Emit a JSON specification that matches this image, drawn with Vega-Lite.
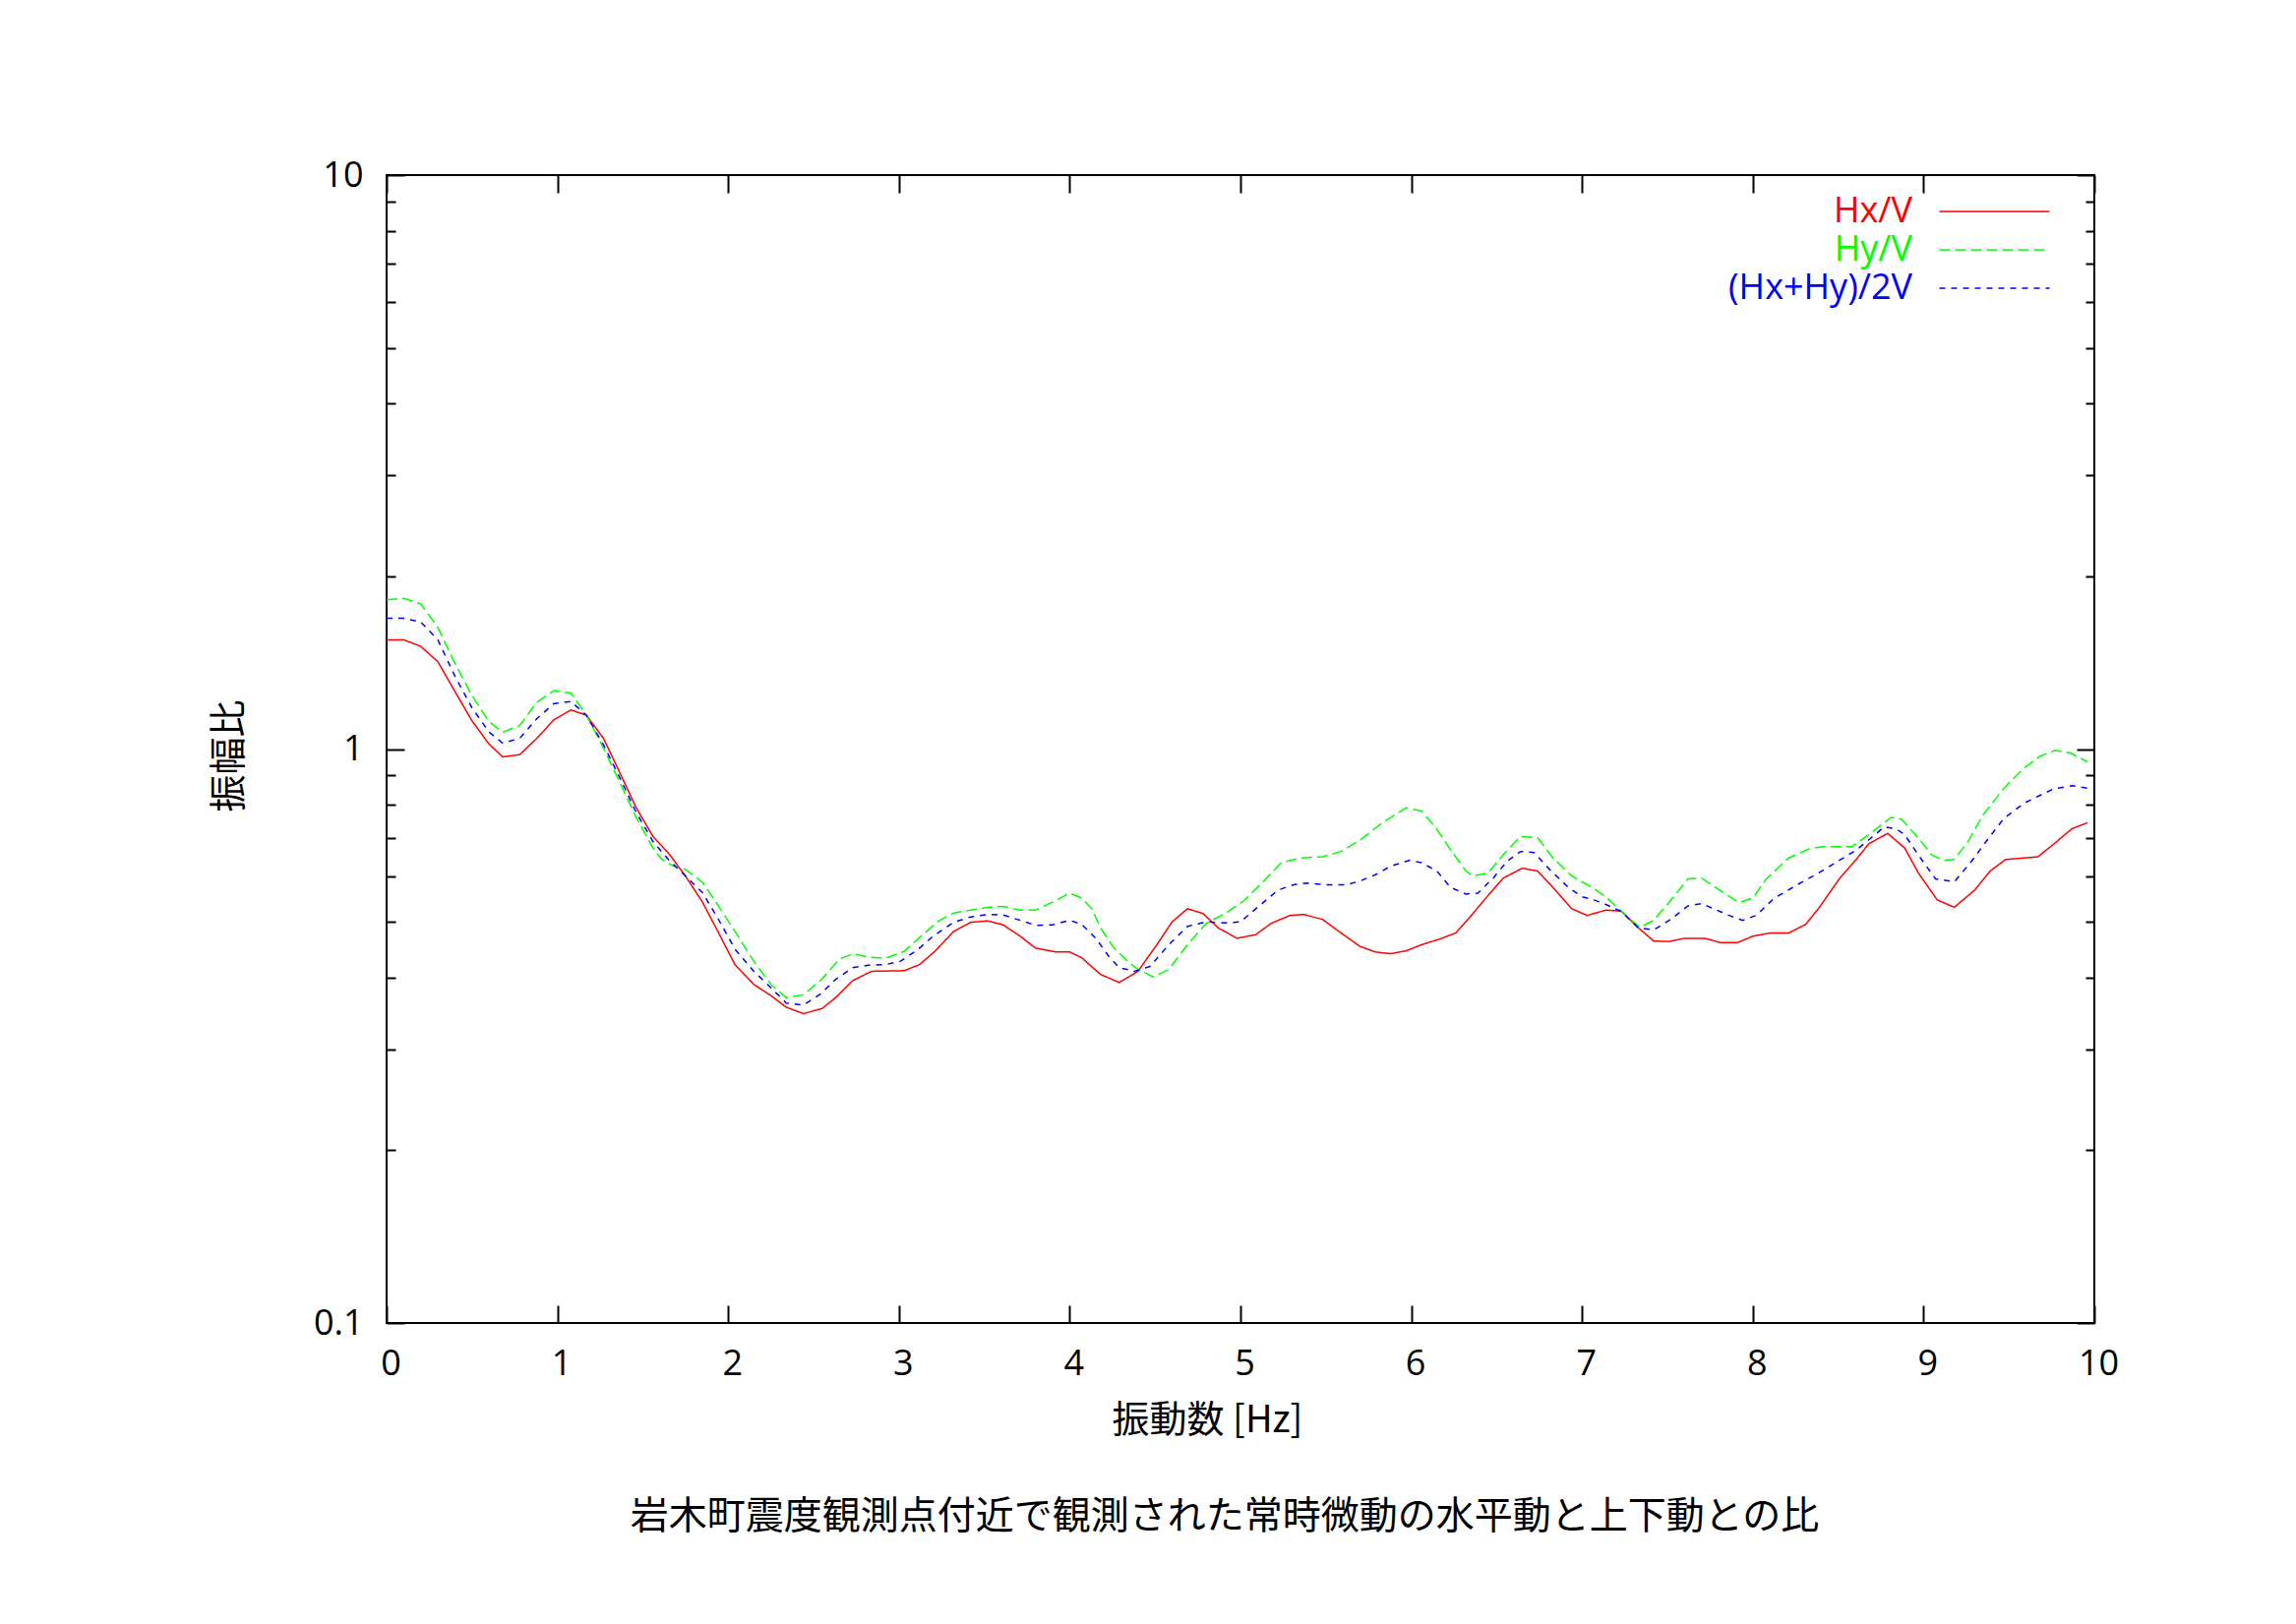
{
  "$schema": "https://vega.github.io/schema/vega-lite/v6.json",
  "autosize": {"type": "none"},
  "padding": {"left": 393, "top": 178, "right": 205, "bottom": 306},
  "width": 1736,
  "height": 1167,
  "background": "white",
  "title": {
    "text": "岩木町震度観測点付近で観測された常時微動の水平動と上下動との比",
    "orient": "bottom",
    "anchor": "middle",
    "font": "Noto Sans CJK JP",
    "fontSize": 39,
    "fontWeight": "normal",
    "color": "black",
    "offset": 60,
    "dx": -16
  },
  "datasets": {
    "hv": [
      {"f":0,"s":"Hx/V","v":1.55},{"f":0.1,"s":"Hx/V","v":1.55},{"f":0.2,"s":"Hx/V","v":1.51},{"f":0.3,"s":"Hx/V","v":1.42},{"f":0.4,"s":"Hx/V","v":1.26},{"f":0.5,"s":"Hx/V","v":1.12},{"f":0.6,"s":"Hx/V","v":1.02},{"f":0.68,"s":"Hx/V","v":0.969},{"f":0.78,"s":"Hx/V","v":0.978},{"f":0.88,"s":"Hx/V","v":1.044},{"f":0.98,"s":"Hx/V","v":1.125},{"f":1.08,"s":"Hx/V","v":1.17},{"f":1.17,"s":"Hx/V","v":1.145},{"f":1.27,"s":"Hx/V","v":1.044},{"f":1.37,"s":"Hx/V","v":0.904},{"f":1.46,"s":"Hx/V","v":0.792},{"f":1.56,"s":"Hx/V","v":0.704},{"f":1.65,"s":"Hx/V","v":0.659},{"f":1.75,"s":"Hx/V","v":0.601},{"f":1.85,"s":"Hx/V","v":0.541},{"f":1.94,"s":"Hx/V","v":0.481},{"f":2.04,"s":"Hx/V","v":0.421},{"f":2.15,"s":"Hx/V","v":0.389},{"f":2.25,"s":"Hx/V","v":0.372},{"f":2.34,"s":"Hx/V","v":0.355},{"f":2.44,"s":"Hx/V","v":0.346},{"f":2.55,"s":"Hx/V","v":0.353},{"f":2.63,"s":"Hx/V","v":0.369},{"f":2.73,"s":"Hx/V","v":0.395},{"f":2.84,"s":"Hx/V","v":0.41},{"f":3.03,"s":"Hx/V","v":0.411},{"f":3.12,"s":"Hx/V","v":0.421},{"f":3.21,"s":"Hx/V","v":0.444},{"f":3.32,"s":"Hx/V","v":0.481},{"f":3.42,"s":"Hx/V","v":0.499},{"f":3.52,"s":"Hx/V","v":0.502},{"f":3.61,"s":"Hx/V","v":0.494},{"f":3.71,"s":"Hx/V","v":0.472},{"f":3.8,"s":"Hx/V","v":0.45},{"f":3.92,"s":"Hx/V","v":0.443},{"f":4.0,"s":"Hx/V","v":0.443},{"f":4.07,"s":"Hx/V","v":0.433},{"f":4.18,"s":"Hx/V","v":0.405},{"f":4.29,"s":"Hx/V","v":0.392},{"f":4.4,"s":"Hx/V","v":0.41},{"f":4.51,"s":"Hx/V","v":0.456},{"f":4.6,"s":"Hx/V","v":0.5},{"f":4.69,"s":"Hx/V","v":0.527},{"f":4.78,"s":"Hx/V","v":0.517},{"f":4.87,"s":"Hx/V","v":0.488},{"f":4.98,"s":"Hx/V","v":0.468},{"f":5.09,"s":"Hx/V","v":0.475},{"f":5.18,"s":"Hx/V","v":0.497},{"f":5.29,"s":"Hx/V","v":0.513},{"f":5.37,"s":"Hx/V","v":0.515},{"f":5.48,"s":"Hx/V","v":0.505},{"f":5.59,"s":"Hx/V","v":0.478},{"f":5.7,"s":"Hx/V","v":0.453},{"f":5.79,"s":"Hx/V","v":0.443},{"f":5.88,"s":"Hx/V","v":0.44},{"f":5.97,"s":"Hx/V","v":0.445},{"f":6.06,"s":"Hx/V","v":0.456},{"f":6.17,"s":"Hx/V","v":0.467},{"f":6.26,"s":"Hx/V","v":0.478},{"f":6.34,"s":"Hx/V","v":0.508},{"f":6.43,"s":"Hx/V","v":0.547},{"f":6.54,"s":"Hx/V","v":0.596},{"f":6.65,"s":"Hx/V","v":0.62},{"f":6.74,"s":"Hx/V","v":0.613},{"f":6.83,"s":"Hx/V","v":0.574},{"f":6.94,"s":"Hx/V","v":0.527},{"f":7.03,"s":"Hx/V","v":0.513},{"f":7.14,"s":"Hx/V","v":0.524},{"f":7.23,"s":"Hx/V","v":0.522},{"f":7.33,"s":"Hx/V","v":0.488},{"f":7.42,"s":"Hx/V","v":0.463},{"f":7.51,"s":"Hx/V","v":0.462},{"f":7.6,"s":"Hx/V","v":0.468},{"f":7.72,"s":"Hx/V","v":0.468},{"f":7.81,"s":"Hx/V","v":0.46},{"f":7.91,"s":"Hx/V","v":0.46},{"f":8.0,"s":"Hx/V","v":0.472},{"f":8.1,"s":"Hx/V","v":0.478},{"f":8.21,"s":"Hx/V","v":0.478},{"f":8.31,"s":"Hx/V","v":0.495},{"f":8.39,"s":"Hx/V","v":0.53},{"f":8.51,"s":"Hx/V","v":0.596},{"f":8.59,"s":"Hx/V","v":0.634},{"f":8.68,"s":"Hx/V","v":0.684},{"f":8.79,"s":"Hx/V","v":0.713},{"f":8.89,"s":"Hx/V","v":0.672},{"f":8.97,"s":"Hx/V","v":0.608},{"f":9.08,"s":"Hx/V","v":0.546},{"f":9.18,"s":"Hx/V","v":0.53},{"f":9.3,"s":"Hx/V","v":0.568},{"f":9.39,"s":"Hx/V","v":0.613},{"f":9.48,"s":"Hx/V","v":0.642},{"f":9.67,"s":"Hx/V","v":0.649},{"f":9.78,"s":"Hx/V","v":0.69},{"f":9.87,"s":"Hx/V","v":0.727},{"f":9.96,"s":"Hx/V","v":0.744},
      {"f":0,"s":"Hy/V","v":1.82},{"f":0.1,"s":"Hy/V","v":1.83},{"f":0.2,"s":"Hy/V","v":1.79},{"f":0.3,"s":"Hy/V","v":1.63},{"f":0.4,"s":"Hy/V","v":1.41},{"f":0.5,"s":"Hy/V","v":1.24},{"f":0.6,"s":"Hy/V","v":1.116},{"f":0.68,"s":"Hy/V","v":1.07},{"f":0.78,"s":"Hy/V","v":1.1},{"f":0.88,"s":"Hy/V","v":1.207},{"f":0.98,"s":"Hy/V","v":1.264},{"f":1.08,"s":"Hy/V","v":1.252},{"f":1.17,"s":"Hy/V","v":1.145},{"f":1.27,"s":"Hy/V","v":1.004},{"f":1.37,"s":"Hy/V","v":0.869},{"f":1.46,"s":"Hy/V","v":0.762},{"f":1.56,"s":"Hy/V","v":0.672},{"f":1.61,"s":"Hy/V","v":0.643},{"f":1.68,"s":"Hy/V","v":0.625},{"f":1.75,"s":"Hy/V","v":0.617},{"f":1.85,"s":"Hy/V","v":0.586},{"f":1.94,"s":"Hy/V","v":0.535},{"f":2.04,"s":"Hy/V","v":0.481},{"f":2.15,"s":"Hy/V","v":0.427},{"f":2.25,"s":"Hy/V","v":0.389},{"f":2.34,"s":"Hy/V","v":0.369},{"f":2.44,"s":"Hy/V","v":0.373},{"f":2.54,"s":"Hy/V","v":0.395},{"f":2.65,"s":"Hy/V","v":0.43},{"f":2.73,"s":"Hy/V","v":0.44},{"f":2.82,"s":"Hy/V","v":0.434},{"f":2.92,"s":"Hy/V","v":0.432},{"f":3.03,"s":"Hy/V","v":0.444},{"f":3.14,"s":"Hy/V","v":0.475},{"f":3.23,"s":"Hy/V","v":0.501},{"f":3.32,"s":"Hy/V","v":0.518},{"f":3.42,"s":"Hy/V","v":0.524},{"f":3.52,"s":"Hy/V","v":0.53},{"f":3.61,"s":"Hy/V","v":0.532},{"f":3.71,"s":"Hy/V","v":0.524},{"f":3.8,"s":"Hy/V","v":0.524},{"f":3.9,"s":"Hy/V","v":0.541},{"f":4.0,"s":"Hy/V","v":0.561},{"f":4.07,"s":"Hy/V","v":0.55},{"f":4.13,"s":"Hy/V","v":0.527},{"f":4.18,"s":"Hy/V","v":0.488},{"f":4.26,"s":"Hy/V","v":0.45},{"f":4.35,"s":"Hy/V","v":0.424},{"f":4.4,"s":"Hy/V","v":0.413},{"f":4.49,"s":"Hy/V","v":0.401},{"f":4.58,"s":"Hy/V","v":0.413},{"f":4.69,"s":"Hy/V","v":0.456},{"f":4.8,"s":"Hy/V","v":0.497},{"f":4.91,"s":"Hy/V","v":0.517},{"f":5.02,"s":"Hy/V","v":0.544},{"f":5.13,"s":"Hy/V","v":0.586},{"f":5.24,"s":"Hy/V","v":0.634},{"f":5.35,"s":"Hy/V","v":0.646},{"f":5.48,"s":"Hy/V","v":0.649},{"f":5.59,"s":"Hy/V","v":0.663},{"f":5.7,"s":"Hy/V","v":0.694},{"f":5.81,"s":"Hy/V","v":0.736},{"f":5.92,"s":"Hy/V","v":0.774},{"f":5.97,"s":"Hy/V","v":0.79},{"f":6.06,"s":"Hy/V","v":0.78},{"f":6.14,"s":"Hy/V","v":0.732},{"f":6.23,"s":"Hy/V","v":0.668},{"f":6.32,"s":"Hy/V","v":0.613},{"f":6.36,"s":"Hy/V","v":0.601},{"f":6.45,"s":"Hy/V","v":0.608},{"f":6.54,"s":"Hy/V","v":0.655},{"f":6.64,"s":"Hy/V","v":0.704},{"f":6.74,"s":"Hy/V","v":0.701},{"f":6.83,"s":"Hy/V","v":0.646},{"f":6.94,"s":"Hy/V","v":0.601},{"f":7.05,"s":"Hy/V","v":0.576},{"f":7.14,"s":"Hy/V","v":0.553},{"f":7.23,"s":"Hy/V","v":0.521},{"f":7.34,"s":"Hy/V","v":0.489},{"f":7.42,"s":"Hy/V","v":0.503},{"f":7.52,"s":"Hy/V","v":0.545},{"f":7.62,"s":"Hy/V","v":0.594},{"f":7.7,"s":"Hy/V","v":0.596},{"f":7.76,"s":"Hy/V","v":0.58},{"f":7.84,"s":"Hy/V","v":0.559},{"f":7.92,"s":"Hy/V","v":0.54},{"f":8.0,"s":"Hy/V","v":0.55},{"f":8.08,"s":"Hy/V","v":0.594},{"f":8.21,"s":"Hy/V","v":0.646},{"f":8.33,"s":"Hy/V","v":0.67},{"f":8.41,"s":"Hy/V","v":0.676},{"f":8.58,"s":"Hy/V","v":0.676},{"f":8.68,"s":"Hy/V","v":0.709},{"f":8.75,"s":"Hy/V","v":0.737},{"f":8.81,"s":"Hy/V","v":0.76},{"f":8.87,"s":"Hy/V","v":0.755},{"f":8.96,"s":"Hy/V","v":0.705},{"f":9.05,"s":"Hy/V","v":0.653},{"f":9.12,"s":"Hy/V","v":0.64},{"f":9.18,"s":"Hy/V","v":0.642},{"f":9.26,"s":"Hy/V","v":0.69},{"f":9.35,"s":"Hy/V","v":0.769},{"f":9.47,"s":"Hy/V","v":0.854},{"f":9.58,"s":"Hy/V","v":0.922},{"f":9.68,"s":"Hy/V","v":0.971},{"f":9.77,"s":"Hy/V","v":0.995},{"f":9.86,"s":"Hy/V","v":0.984},{"f":9.96,"s":"Hy/V","v":0.95},
      {"f":0,"s":"(Hx+Hy)/2V","v":1.69},{"f":0.1,"s":"(Hx+Hy)/2V","v":1.69},{"f":0.2,"s":"(Hx+Hy)/2V","v":1.665},{"f":0.3,"s":"(Hx+Hy)/2V","v":1.55},{"f":0.4,"s":"(Hx+Hy)/2V","v":1.34},{"f":0.5,"s":"(Hx+Hy)/2V","v":1.18},{"f":0.6,"s":"(Hx+Hy)/2V","v":1.07},{"f":0.68,"s":"(Hx+Hy)/2V","v":1.024},{"f":0.78,"s":"(Hx+Hy)/2V","v":1.044},{"f":0.88,"s":"(Hx+Hy)/2V","v":1.13},{"f":0.98,"s":"(Hx+Hy)/2V","v":1.2},{"f":1.08,"s":"(Hx+Hy)/2V","v":1.21},{"f":1.17,"s":"(Hx+Hy)/2V","v":1.145},{"f":1.27,"s":"(Hx+Hy)/2V","v":1.017},{"f":1.37,"s":"(Hx+Hy)/2V","v":0.886},{"f":1.46,"s":"(Hx+Hy)/2V","v":0.777},{"f":1.56,"s":"(Hx+Hy)/2V","v":0.69},{"f":1.65,"s":"(Hx+Hy)/2V","v":0.642},{"f":1.75,"s":"(Hx+Hy)/2V","v":0.601},{"f":1.85,"s":"(Hx+Hy)/2V","v":0.562},{"f":1.94,"s":"(Hx+Hy)/2V","v":0.507},{"f":2.04,"s":"(Hx+Hy)/2V","v":0.448},{"f":2.15,"s":"(Hx+Hy)/2V","v":0.41},{"f":2.25,"s":"(Hx+Hy)/2V","v":0.384},{"f":2.34,"s":"(Hx+Hy)/2V","v":0.361},{"f":2.44,"s":"(Hx+Hy)/2V","v":0.358},{"f":2.54,"s":"(Hx+Hy)/2V","v":0.374},{"f":2.63,"s":"(Hx+Hy)/2V","v":0.397},{"f":2.73,"s":"(Hx+Hy)/2V","v":0.416},{"f":2.82,"s":"(Hx+Hy)/2V","v":0.42},{"f":2.92,"s":"(Hx+Hy)/2V","v":0.421},{"f":3.01,"s":"(Hx+Hy)/2V","v":0.427},{"f":3.11,"s":"(Hx+Hy)/2V","v":0.447},{"f":3.2,"s":"(Hx+Hy)/2V","v":0.472},{"f":3.32,"s":"(Hx+Hy)/2V","v":0.499},{"f":3.42,"s":"(Hx+Hy)/2V","v":0.51},{"f":3.52,"s":"(Hx+Hy)/2V","v":0.515},{"f":3.61,"s":"(Hx+Hy)/2V","v":0.514},{"f":3.71,"s":"(Hx+Hy)/2V","v":0.503},{"f":3.8,"s":"(Hx+Hy)/2V","v":0.493},{"f":3.9,"s":"(Hx+Hy)/2V","v":0.494},{"f":4.0,"s":"(Hx+Hy)/2V","v":0.503},{"f":4.07,"s":"(Hx+Hy)/2V","v":0.495},{"f":4.15,"s":"(Hx+Hy)/2V","v":0.469},{"f":4.23,"s":"(Hx+Hy)/2V","v":0.435},{"f":4.29,"s":"(Hx+Hy)/2V","v":0.416},{"f":4.38,"s":"(Hx+Hy)/2V","v":0.41},{"f":4.47,"s":"(Hx+Hy)/2V","v":0.418},{"f":4.58,"s":"(Hx+Hy)/2V","v":0.456},{"f":4.69,"s":"(Hx+Hy)/2V","v":0.491},{"f":4.8,"s":"(Hx+Hy)/2V","v":0.5},{"f":4.91,"s":"(Hx+Hy)/2V","v":0.498},{"f":5.0,"s":"(Hx+Hy)/2V","v":0.5},{"f":5.11,"s":"(Hx+Hy)/2V","v":0.533},{"f":5.22,"s":"(Hx+Hy)/2V","v":0.568},{"f":5.31,"s":"(Hx+Hy)/2V","v":0.58},{"f":5.39,"s":"(Hx+Hy)/2V","v":0.584},{"f":5.51,"s":"(Hx+Hy)/2V","v":0.58},{"f":5.62,"s":"(Hx+Hy)/2V","v":0.58},{"f":5.7,"s":"(Hx+Hy)/2V","v":0.589},{"f":5.79,"s":"(Hx+Hy)/2V","v":0.604},{"f":5.88,"s":"(Hx+Hy)/2V","v":0.625},{"f":5.99,"s":"(Hx+Hy)/2V","v":0.64},{"f":6.06,"s":"(Hx+Hy)/2V","v":0.634},{"f":6.15,"s":"(Hx+Hy)/2V","v":0.613},{"f":6.23,"s":"(Hx+Hy)/2V","v":0.574},{"f":6.32,"s":"(Hx+Hy)/2V","v":0.559},{"f":6.39,"s":"(Hx+Hy)/2V","v":0.561},{"f":6.48,"s":"(Hx+Hy)/2V","v":0.596},{"f":6.56,"s":"(Hx+Hy)/2V","v":0.637},{"f":6.64,"s":"(Hx+Hy)/2V","v":0.663},{"f":6.72,"s":"(Hx+Hy)/2V","v":0.66},{"f":6.81,"s":"(Hx+Hy)/2V","v":0.617},{"f":6.92,"s":"(Hx+Hy)/2V","v":0.574},{"f":7.0,"s":"(Hx+Hy)/2V","v":0.553},{"f":7.07,"s":"(Hx+Hy)/2V","v":0.546},{"f":7.14,"s":"(Hx+Hy)/2V","v":0.536},{"f":7.23,"s":"(Hx+Hy)/2V","v":0.521},{"f":7.33,"s":"(Hx+Hy)/2V","v":0.488},{"f":7.42,"s":"(Hx+Hy)/2V","v":0.484},{"f":7.52,"s":"(Hx+Hy)/2V","v":0.505},{"f":7.62,"s":"(Hx+Hy)/2V","v":0.533},{"f":7.7,"s":"(Hx+Hy)/2V","v":0.538},{"f":7.79,"s":"(Hx+Hy)/2V","v":0.524},{"f":7.86,"s":"(Hx+Hy)/2V","v":0.513},{"f":7.94,"s":"(Hx+Hy)/2V","v":0.503},{"f":8.02,"s":"(Hx+Hy)/2V","v":0.513},{"f":8.12,"s":"(Hx+Hy)/2V","v":0.548},{"f":8.25,"s":"(Hx+Hy)/2V","v":0.578},{"f":8.38,"s":"(Hx+Hy)/2V","v":0.607},{"f":8.5,"s":"(Hx+Hy)/2V","v":0.638},{"f":8.61,"s":"(Hx+Hy)/2V","v":0.668},{"f":8.69,"s":"(Hx+Hy)/2V","v":0.699},{"f":8.77,"s":"(Hx+Hy)/2V","v":0.732},{"f":8.84,"s":"(Hx+Hy)/2V","v":0.726},{"f":8.89,"s":"(Hx+Hy)/2V","v":0.709},{"f":8.96,"s":"(Hx+Hy)/2V","v":0.66},{"f":9.07,"s":"(Hx+Hy)/2V","v":0.594},{"f":9.18,"s":"(Hx+Hy)/2V","v":0.587},{"f":9.28,"s":"(Hx+Hy)/2V","v":0.637},{"f":9.38,"s":"(Hx+Hy)/2V","v":0.699},{"f":9.47,"s":"(Hx+Hy)/2V","v":0.757},{"f":9.59,"s":"(Hx+Hy)/2V","v":0.805},{"f":9.68,"s":"(Hx+Hy)/2V","v":0.83},{"f":9.76,"s":"(Hx+Hy)/2V","v":0.852},{"f":9.87,"s":"(Hx+Hy)/2V","v":0.863},{"f":9.96,"s":"(Hx+Hy)/2V","v":0.855}
    ]
  },
  "data": {"name": "hv"},
  "layer": [
    {
      "mark": {"type": "line", "strokeWidth": 1.5, "clip": true},
      "encoding": {
        "x": {
          "field": "f", "type": "quantitative",
          "scale": {"domain": [0, 10], "nice": false, "zero": false},
          "axis": {
            "orient": "bottom",
            "title": "振動数 [Hz]",
            "values": [0,1,2,3,4,5,6,7,8,9,10],
            "tickSize": -18,
            "labelPadding": 42,
            "labelOffset": 4,
            "labelFlush": false,
            "labelOverlap": false,
            "titleX": 834,
            "titleY": 99,
            "titleAlign": "center",
            "titleBaseline": "middle"
          }
        },
        "y": {
          "field": "v", "type": "quantitative",
          "scale": {"type": "log", "domain": [0.1, 10], "nice": false},
          "axis": {
            "orient": "left",
            "title": "振幅比",
            "values": [0.1,0.2,0.3,0.4,0.5,0.6,0.7,0.8,0.9,1,2,3,4,5,6,7,8,9,10],
            "labelExpr": "datum.value == 0.1 ? '0.1' : datum.value == 1 ? '1' : datum.value == 10 ? '10' : ''",
            "tickSize": {"condition": {"test": "datum.value == 0.1 || datum.value == 1 || datum.value == 10", "value": -18}, "value": -9},
            "labelPadding": 42,
            "labelFlush": false,
            "labelOverlap": false,
            "titleX": -160,
            "titleY": 590,
            "titleAngle": -90,
            "titleAlign": "center",
            "titleBaseline": "middle"
          }
        },
        "color": {
          "field": "s", "type": "nominal",
          "scale": {"domain": ["Hx/V", "Hy/V", "(Hx+Hy)/2V"], "range": ["#ff0000", "#00ff00", "#0000ff"]},
          "legend": {
            "orient": "none",
            "legendX": 1578,
            "legendY": 19,
            "title": null,
            "direction": "vertical",
            "padding": 0,
            "symbolType": "M-4,0L4,0",
            "symbolSize": 784,
            "symbolOffset": 38.5,
            "symbolStrokeWidth": 1.5,
            "labelFont": "Open Sans",
            "labelFontSize": 36,
            "labelAlign": "right",
            "labelBaseline": "middle",
            "labelOffset": -101.5,
            "labelLimit": 0,
            "rowPadding": 3,
            "labelColor": {"expr": "datum.value === 'Hx/V' ? '#ff0000' : datum.value === 'Hy/V' ? '#00ff00' : '#0000ff'"}
          }
        },
        "strokeDash": {
          "field": "s", "type": "nominal",
          "scale": {"domain": ["Hx/V", "Hy/V", "(Hx+Hy)/2V"], "range": [[1, 0], [11, 5], [6, 6]]},
          "legend": {
            "orient": "none",
            "legendX": 1578,
            "legendY": 19,
            "title": null,
            "direction": "vertical",
            "padding": 0,
            "symbolType": "M-4,0L4,0",
            "symbolSize": 784,
            "symbolOffset": 38.5,
            "symbolStrokeWidth": 1.5,
            "labelFont": "Open Sans",
            "labelFontSize": 36,
            "labelAlign": "right",
            "labelBaseline": "middle",
            "labelOffset": -101.5,
            "labelLimit": 0,
            "rowPadding": 3,
            "labelColor": {"expr": "datum.value === 'Hx/V' ? '#ff0000' : datum.value === 'Hy/V' ? '#00ff00' : '#0000ff'"}
          }
        }
      }
    },
    {
      "mark": {"type": "point", "opacity": 0},
      "encoding": {
        "x": {
          "field": "f", "type": "quantitative",
          "axis": {
            "orient": "top",
            "title": null,
            "labels": false,
            "values": [0,1,2,3,4,5,6,7,8,9,10],
            "tickSize": -18
          }
        },
        "y": {
          "field": "v", "type": "quantitative",
          "axis": {
            "orient": "right",
            "title": null,
            "labels": false,
            "values": [0.1,0.2,0.3,0.4,0.5,0.6,0.7,0.8,0.9,1,2,3,4,5,6,7,8,9,10],
            "tickSize": {"condition": {"test": "datum.value == 0.1 || datum.value == 1 || datum.value == 10", "value": -18}, "value": -9}
          }
        }
      }
    }
  ],
  "resolve": {"axis": {"x": "independent", "y": "independent"}},
  "config": {
    "view": {"stroke": "black", "strokeWidth": 2},
    "axis": {
      "domain": false,
      "grid": false,
      "tickColor": "black",
      "tickWidth": 2,
      "labelFont": "Open Sans",
      "labelFontSize": 36,
      "labelColor": "black",
      "titleFont": "Noto Sans CJK JP",
      "titleFontSize": 38,
      "titleFontWeight": "normal",
      "titleColor": "black"
    }
  }
}
